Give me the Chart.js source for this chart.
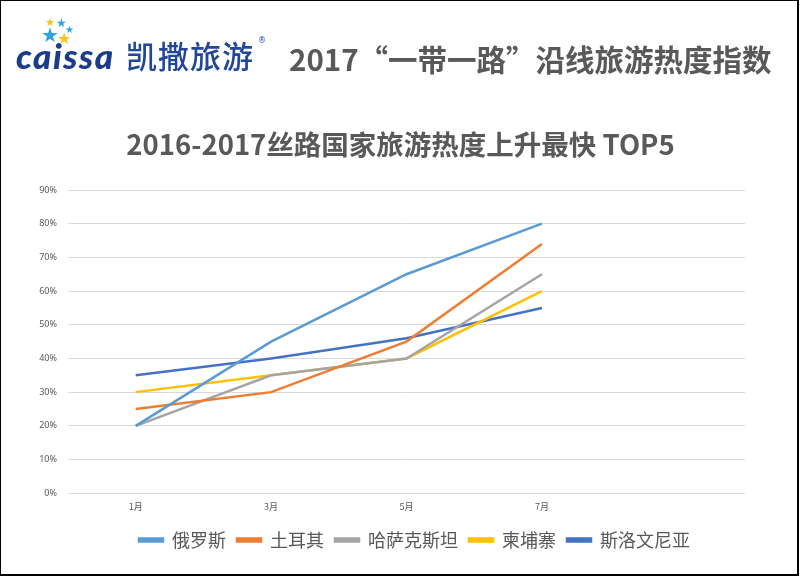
<!DOCTYPE html>
<html>
<head>
<meta charset="utf-8">
<script src="https://cdn.jsdelivr.net/npm/chart.js@4.4.1/dist/chart.umd.min.js"></script>
<style>
  html, body { margin: 0; padding: 0; background: #fff; }
  #wrap { position: relative; width: 800px; height: 576px; overflow: hidden; }
  #frame { position: absolute; left: 0; top: 0; width: 796px; height: 573px; border: 1px solid #000; border-right-width: 2px; border-bottom-width: 2px; pointer-events: none; }
  canvas { position: absolute; left: 0; top: 0; }
  .star { position: absolute; line-height: 1; }
  #caissa { position: absolute; left: 16px; top: 34px; font: italic 900 35px Lato, sans-serif; color: #1b3c8c; letter-spacing: 1.5px; }
  #brand { position: absolute; left: 126px; top: 32px; font: 500 31px "Noto Sans CJK SC", sans-serif; color: #21479a; letter-spacing: 1px; }
  #reg { position: absolute; left: 258px; top: 36px; font: 8px "DejaVu Sans", sans-serif; color: #21479a; }
  #head { position: absolute; left: 289px; top: 37px; font: bold 29.5px "Noto Sans CJK SC", sans-serif; color: #595959; white-space: nowrap; }
</style>
</head>
<body>
<div id="wrap">
  <canvas id="myChart" width="800" height="576"></canvas>
  <div class="star" style="left:45px;top:17px;font-size:11px;color:#f5c518;">★</div>
  <div class="star" style="left:56px;top:17px;font-size:12px;color:#2aa5e0;">★</div>
  <div class="star" style="left:65px;top:25px;font-size:10px;color:#2aa5e0;">★</div>
  <div class="star" style="left:41px;top:25px;font-size:20px;color:#2aa5e0;">★</div>
  <div class="star" style="left:57px;top:31px;font-size:16px;color:#f5c518;">★</div>
  <div id="caissa">caissa</div>
  <div id="brand">凯撒旅游</div>
  <div id="reg">®</div>
  <div id="head">2017“一带一路”沿线旅游热度指数</div>
  <div id="frame"></div>
</div>
<script>
let popCanvas = document.getElementById("myChart");

// months on the x axis (last slot is empty in the original)
let months = ["1月", "3月", "5月", "7月", ""];

let russia = [20, 45, 65, 80, null];
let turkey = [25, 30, 45, 74, null];
let kazakhstan = [20, 35, 40, 65, null];
let cambodia = [30, 35, 40, 60, null];
let slovenia = [35, 40, 46, 55, null];

let yTicks = [0, 10, 20, 30, 40, 50, 60, 70, 80, 90];

function makeSet(label, data, color) {
    return {
        label: label,
        data: data,
        borderColor: color,
        backgroundColor: color,
        borderWidth: 2.5,
        pointRadius: 0,
        tension: 0,
        fill: false
    };
}

let chartData = {
    labels: months,
    datasets: [
        makeSet("俄罗斯", russia, "#5b9bd5"),
        makeSet("土耳其", turkey, "#ed7d31"),
        makeSet("哈萨克斯坦", kazakhstan, "#a5a5a5"),
        makeSet("柬埔寨", cambodia, "#ffc000"),
        makeSet("斯洛文尼亚", slovenia, "#4472c4")
    ]
};

// title and legend sit centred on the page, not on the plot
let shiftBoxes = {
    id: 'shiftBoxes',
    afterLayout: function (chart) {
        chart.titleBlock.left += 28;
        chart.titleBlock.right += 28;
        chart.legend.left += 42;
        chart.legend.right += 42;
    }
};

let lineChart = new Chart(popCanvas, {
    type: 'line',
    data: chartData,
    plugins: [shiftBoxes],
    options: {
        responsive: false,
        animation: false,
        layout: {
            padding: { top: 113, right: 55, bottom: 17, left: 0 }
        },
        plugins: {
            title: {
                display: true,
                text: "2016-2017丝路国家旅游热度上升最快 TOP5",
                color: "#595959",
                font: { family: "Noto Sans CJK SC", size: 27.5, weight: "bold" },
                padding: { top: 15, bottom: 29 }
            },
            legend: {
                display: true,
                position: 'bottom',
                labels: {
                    boxWidth: 24,
                    boxHeight: 3,
                    color: "#595959",
                    padding: 11,
                    font: { family: "Noto Sans CJK SC", size: 18 }
                }
            },
            tooltip: { enabled: false }
        },
        scales: {
            x: {
                offset: true,
                grid: { display: false, drawTicks: false },
                border: { display: false },
                ticks: {
                    color: "#595959",
                    padding: 8,
                    maxRotation: 0,
                    autoSkip: false,
                    font: { family: "Noto Sans CJK SC", size: 9 }
                }
            },
            y: {
                min: 0,
                max: 90,
                afterFit: function (scale) { scale.width = 68; },
                afterBuildTicks: function (scale) {
                    scale.ticks = yTicks.map(function (v) { return { value: v }; });
                },
                grid: { color: "#d9d9d9", lineWidth: 1, drawTicks: false },
                border: { display: false },
                ticks: {
                    color: "#595959",
                    padding: 11,
                    font: { family: "Noto Sans", size: 9 },
                    callback: function (v) { return v + "%"; }
                }
            }
        }
    }
});
</script>
</body>
</html>
